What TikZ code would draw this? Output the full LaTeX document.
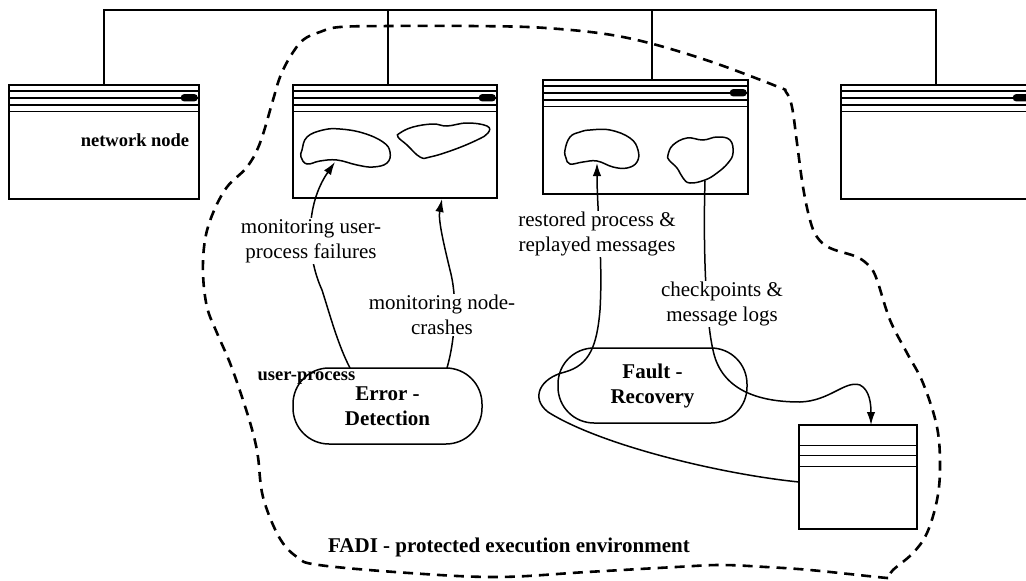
\documentclass[tikz,border=0pt]{standalone}
\usepackage{fontspec}
\setmainfont{Liberation Serif}
\usetikzlibrary{arrows.meta}
\newcommand\headerlines[1]{%
  \foreach \dy in {6.5,13.5,20.5,27}{\draw[solidline] ([yshift=-\dy pt]#1.north west) -- ([yshift=-\dy pt]#1.north east);}
  \fill[rounded corners=3.5pt] ([xshift=-19pt,yshift=-9.8pt]#1.north east) rectangle ([xshift=-2pt,yshift=-17.2pt]#1.north east);
}
\begin{document}
\begin{tikzpicture}[x=1pt,y=-1pt,
  solidline/.style={line width=1.5pt},
  netbox/.style={draw,line width=1.5pt,inner sep=0pt},
  procbox/.style={draw,line width=1.5pt,rounded corners=36pt,inner sep=0pt,align=center,font=\bfseries\fontsize{21}{25}\selectfont},
  conn/.style={line width=1.5pt,-{Latex[length=13pt,width=8.5pt]}},
  lbl/.style={fill=white,inner sep=1pt,align=center,font=\fontsize{21}{25}\selectfont},
  boldsmall/.style={inner sep=0pt,font=\bfseries\fontsize{18.5}{22}\selectfont},
  boldbig/.style={inner sep=0pt,font=\bfseries\fontsize{21}{25}\selectfont},
  blob/.style={line width=1.5pt},
  boundary/.style={line width=2.6pt,dash pattern=on 10pt off 7pt}
]
\useasboundingbox (0,0) rectangle (1026,581);
\clip (0,0) rectangle (1026,581);

% network nodes
\node[netbox,minimum width=190pt,minimum height=114pt] (n1) at (104,142) {};
\node[netbox,minimum width=204pt,minimum height=113pt] (n2) at (395,141.5) {};
\node[netbox,minimum width=205pt,minimum height=114pt] (n3) at (645.5,137) {};
\node[netbox,minimum width=190pt,minimum height=114pt] (n4) at (936,142) {};
\headerlines{n1}
\headerlines{n2}
\headerlines{n3}
\headerlines{n4}
\node[boldsmall] (nnlabel) at (135,140) {network node};

% bus
\coordinate (b1) at (104,10);
\coordinate (b2) at (388,10);
\coordinate (b3) at (652,10);
\coordinate (b4) at (936,10);
\draw[solidline] (b1 |- n1.north) -- (b1) -- (b4) -- (b4 |- n4.north);
\draw[solidline] (b2) -- (b2 |- n2.north);
\draw[solidline] (b3) -- (b3 |- n3.north);

% processes (blobs)
\draw[blob] plot[smooth cycle,tension=0.7] coordinates {(302,150) (307,137) (323,130) (340,129) (363,133) (383,142) (390,152) (387,163) (373,167) (357,165) (337,160) (320,161) (307,164) (301,157)};
\draw[blob] plot[smooth cycle,tension=0.7] coordinates {(400,133) (413,127) (433,124) (447,126) (467,123) (487,126) (488,133) (477,140) (453,150) (430,157) (420,157) (407,145) (398,137)};
\draw[blob] plot[smooth cycle,tension=0.7] coordinates {(565,150) (570,137) (580,132) (590,130) (610,130) (630,138) (638,150) (637,162) (627,168) (613,167) (597,161) (583,162) (570,164) (566,158)};
\draw[blob] plot[smooth cycle,tension=0.7] coordinates {(668,155) (673,145) (687,138) (703,140) (717,137) (730,140) (733,153) (728,163) (717,173) (705,180) (690,183) (683,178) (677,168) (669,160)};

% FADI units
\node[procbox,minimum width=189pt,minimum height=76pt] (ed) at (387.5,406) {Error -\\Detection};
\node[procbox,minimum width=189pt,minimum height=75pt] (fr) at (652.5,385.5) {Fault -\\Recovery};
\node[boldsmall] (up) at (306.5,378) {user-process};

% stable storage
\node[netbox,minimum width=118pt,minimum height=104pt] (store) at (858,477) {};
\foreach \dy in {21,31,42}{\draw[solidline] ([yshift=-\dy pt]store.north west) -- ([yshift=-\dy pt]store.north east);}

% connector end points
\coordinate (a1s) at (350,368);
\coordinate (a1e) at (335,162);
\coordinate (a2s) at (447,368);
\coordinate (a2e) at (442,199);
\coordinate (a3s) at (799,482);
\coordinate (a3e) at (597,163);
\coordinate (a4s) at (705,181);
\coordinate (a4e) at (871,425);

\draw[conn] (a1s) .. controls (338,345) and (330,315) .. (322,290) .. controls (306,255) and (305,205) .. (a1e);
\draw[conn] (a2s) .. controls (455,340) and (458,300) .. (450,270) .. controls (444,245) and (438,220) .. (a2e);
\draw[conn] (a3s) .. controls (720,474) and (600,445) .. (548,412) .. controls (530,398) and (540,378) .. (565,372) .. controls (590,365) and (597,345) .. (600,310) .. controls (603,260) and (597,210) .. (a3e);
\draw[conn] (a4s) .. controls (703,250) and (706,320) .. (713,350) .. controls (720,385) and (750,402) .. (800,402) .. controls (830,401) and (845,380) .. (860,385) .. controls (870,390) and (871,405) .. (a4e);

\node[lbl] (l1) at (311,241) {monitoring user-\\process failures};
\node[lbl] (l2) at (442,315) {monitoring node-\\crashes};
\node[lbl] (l3) at (597,234) {restored process \&\\replayed messages};
\node[lbl] (l4) at (722,304) {checkpoints \&\\message logs};

% protected environment
\draw[boundary] plot[smooth,tension=0.6] coordinates {(888,578) (877,577) (810,570) (766,567) (721,565) (676,567) (587,572) (498,577) (409,573) (319,565) (297,557) (279,537) (263,497) (258,457) (253,433) (243,400) (230,363) (217,333) (207,307) (203,273) (205,240) (213,213) (227,187) (247,167) (260,143) (273,100) (280,77) (290,57) (303,40) (320,32) (340,27) (393,26) (470,26) (546,28) (623,37) (700,58) (776,86) (786,92) (792,107) (797,143) (803,187) (810,220) (817,237) (830,248) (857,257) (870,267) (877,280) (890,320) (907,353) (923,383) (937,427) (940,467) (937,500) (927,533) (913,553) (893,570) (888,578)};
\node[boldbig] (fadi) at (509,547) {FADI - protected execution environment};
\end{tikzpicture}
\end{document}
